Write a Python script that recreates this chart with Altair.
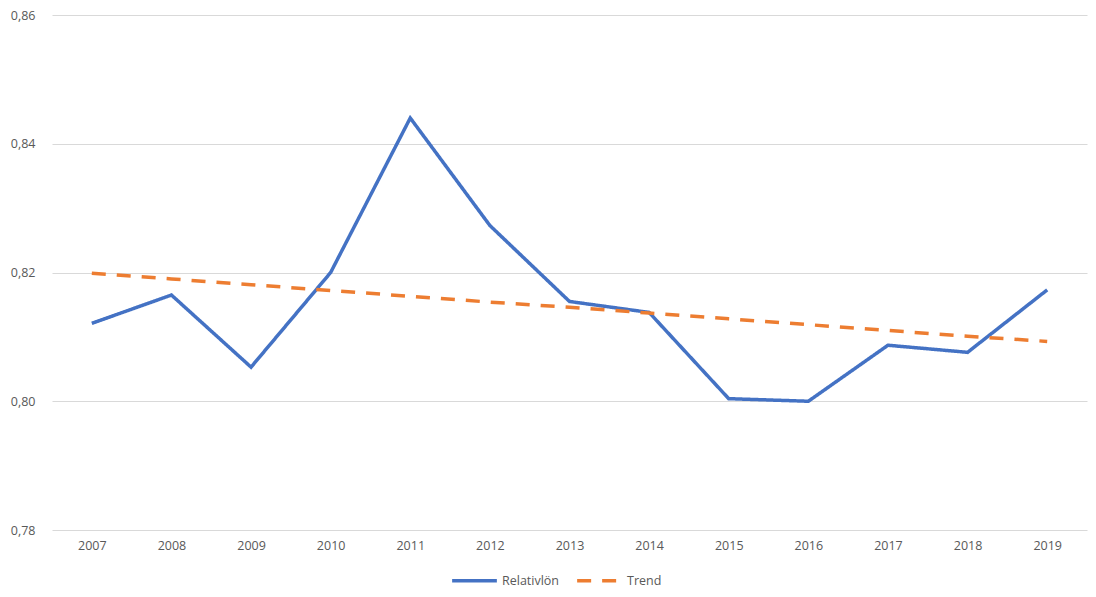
import altair as alt
import pandas as pd

years = ["2007", "2008", "2009", "2010", "2011", "2012", "2013", "2014", "2015", "2016", "2017", "2018", "2019"]
relativlon = [0.8121, 0.8165, 0.8053, 0.8200, 0.8440, 0.8273, 0.8155, 0.8138, 0.8004, 0.8000, 0.8087, 0.8076, 0.8173]
trend = [0.8199, 0.8190, 0.8181, 0.8172, 0.8163, 0.8154, 0.8146, 0.8137, 0.8128, 0.8119, 0.8110, 0.8101, 0.8093]
series_names = ["Relativlön", "Trend"]

rows = []
for y, v in zip(years, relativlon):
    rows.append({"year": y, "value": v, "series": series_names[0]})
for y, v in zip(years, trend):
    rows.append({"year": y, "value": v, "series": series_names[1]})
df = pd.DataFrame(rows)

font = "Open Sans"

chart = alt.Chart(df).mark_line(strokeWidth=3.5, strokeCap="butt").encode(
    x=alt.X("year:O", sort=years, title=None,
            scale=alt.Scale(padding=0.5),
            axis=alt.Axis(labelAngle=0, domain=False, ticks=False, grid=False,
                          labelPadding=9, labelFontSize=12.5, labelColor="#595959", labelFont=font)),
    y=alt.Y("value:Q", title=None,
            scale=alt.Scale(domain=[0.78, 0.86], nice=False, zero=False),
            axis=alt.Axis(values=[0.78, 0.80, 0.82, 0.84, 0.86], format=".2f",
                          labelExpr="replace(format(datum.value, '.2f'), '.', ',')",
                          domain=False, ticks=False, gridColor="#d9d9d9", gridWidth=1,
                          labelPadding=17, labelFontSize=12.5, labelColor="#595959", labelFont=font)),
    color=alt.Color("series:N", sort=series_names,
                    scale=alt.Scale(domain=series_names, range=["#4472C4", "#ED7D31"]),
                    legend=alt.Legend(title=None, orient="none", direction="horizontal",
                                      legendX=398, legendY=541, padding=0,
                                      symbolType="stroke", symbolSize=2000, symbolStrokeWidth=3.5,
                                      labelFontSize=12.5, labelColor="#595959", labelFont=font,
                                      labelOffset=3, columnPadding=10)),
    strokeDash=alt.StrokeDash("series:N", sort=series_names,
                              scale=alt.Scale(domain=series_names, range=[[1, 0], [14, 11]]),
                              legend=None),
).properties(
    width=1035, height=515,
    autosize=alt.AutoSizeParams(type="none"),
    padding={"left": 44, "top": 7, "right": 1, "bottom": 59},
).configure_view(stroke=None)

chart.save("out.html", embed_options={"renderer": "svg", "actions": False})
